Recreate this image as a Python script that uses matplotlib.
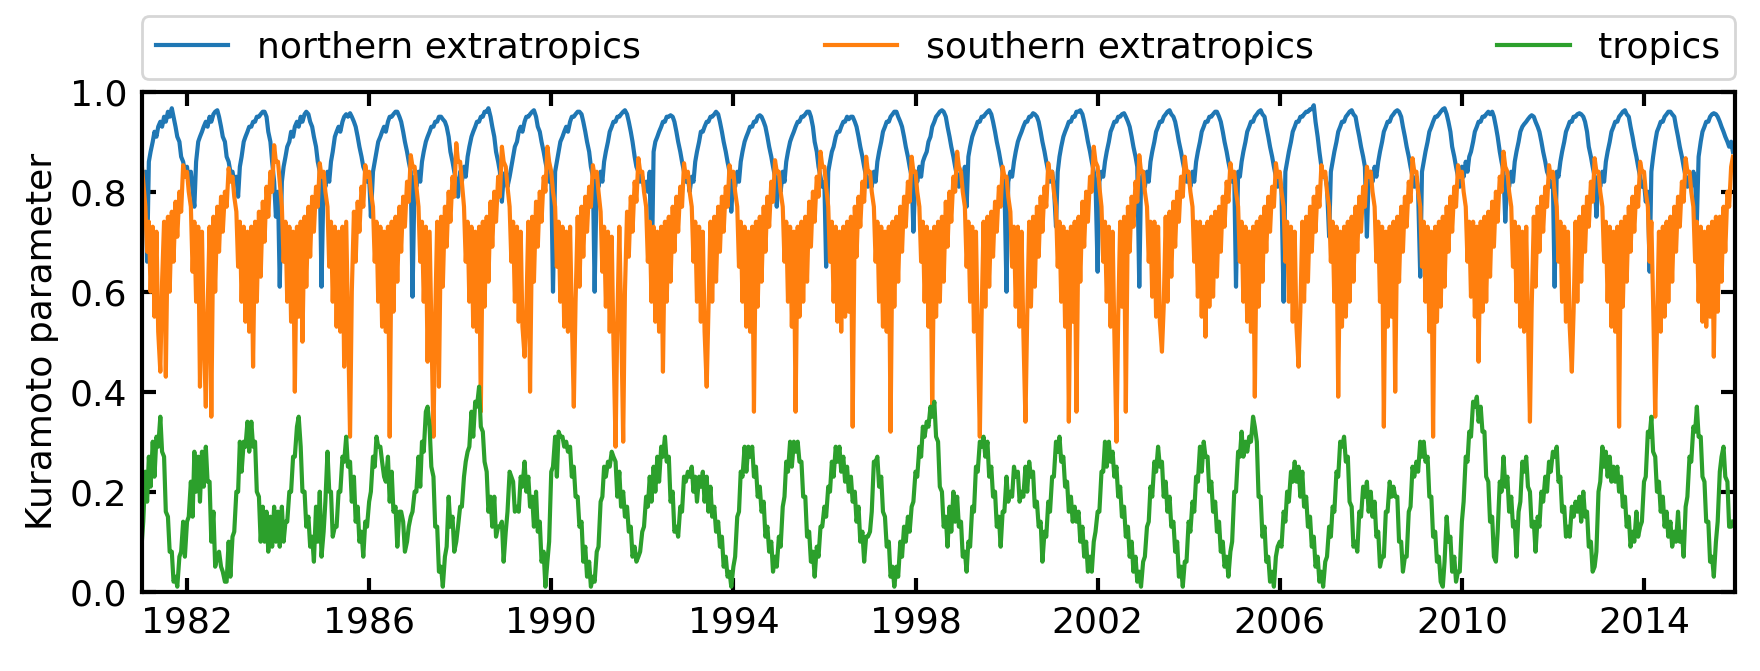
import numpy as np
import pandas as pd
import matplotlib
matplotlib.use("Agg")
import matplotlib.pyplot as plt

# ---------------- data (semi-monthly readings, 24 per year, 1981-2015) ----------------
years = list(range(1981, 2016))
labels = ["northern extratropics", "southern extratropics", "tropics"]
xtick_years = [1982, 1986, 1990, 1994, 1998, 2002, 2006, 2010, 2014]
xtick_labels = ["1982", "1986", "1990", "1994", "1998", "2002", "2006", "2010", "2014"]
ytick_values = [0.0, 0.2, 0.4, 0.6, 0.8, 1.0]

north = [
    [.82,.80,.84,.66,.86,.88,.90,.92,.91,.93,.94,.93,.95,.94,.96,.95,.967,.95,.93,.91,.90,.87,.86,.84],
    [.85,.82,.84,.80,.77,.86,.90,.91,.92,.93,.94,.93,.95,.94,.955,.96,.963,.95,.93,.91,.90,.87,.86,.84],
    [.84,.82,.83,.79,.85,.87,.90,.91,.92,.93,.93,.94,.94,.95,.95,.955,.96,.96,.95,.92,.90,.86,.82,.75],
    [.80,.61,.82,.85,.87,.89,.90,.92,.91,.93,.94,.93,.95,.94,.955,.96,.955,.94,.93,.91,.89,.86,.84,.61],
    [.83,.81,.84,.82,.86,.88,.91,.92,.93,.92,.94,.95,.955,.95,.957,.95,.94,.93,.91,.89,.87,.85,.84,.82],
    [.83,.75,.84,.86,.88,.90,.91,.92,.93,.92,.94,.95,.95,.955,.96,.96,.95,.94,.92,.90,.88,.86,.84,.59],
    [.83,.81,.84,.82,.86,.88,.90,.91,.92,.93,.93,.94,.94,.95,.95,.945,.94,.93,.91,.88,.86,.84,.82,.79],
    [.84,.82,.85,.83,.87,.89,.91,.92,.93,.94,.94,.95,.95,.96,.96,.967,.95,.93,.91,.88,.86,.84,.78,.83],
    [.84,.81,.83,.85,.87,.89,.90,.92,.93,.92,.94,.95,.95,.955,.96,.963,.95,.93,.92,.90,.88,.86,.84,.82],
    [.83,.60,.84,.86,.88,.90,.91,.92,.93,.92,.94,.95,.95,.955,.96,.96,.955,.94,.92,.90,.88,.85,.83,.60],
    [.83,.81,.84,.82,.86,.88,.90,.92,.93,.94,.94,.95,.95,.955,.96,.963,.955,.94,.92,.90,.87,.85,.84,.82],
    [.83,.81,.82,.80,.84,.60,.88,.90,.91,.92,.93,.94,.94,.95,.95,.953,.95,.94,.92,.90,.88,.86,.84,.82],
    [.83,.80,.83,.82,.86,.88,.90,.92,.92,.93,.94,.94,.95,.95,.955,.96,.955,.94,.92,.90,.88,.86,.84,.76],
    [.83,.81,.84,.82,.86,.88,.90,.91,.92,.93,.93,.94,.94,.95,.953,.95,.94,.93,.91,.89,.87,.85,.83,.77],
    [.83,.80,.84,.82,.86,.88,.90,.91,.92,.93,.94,.94,.95,.95,.955,.96,.96,.95,.93,.90,.88,.85,.83,.81],
    [.82,.65,.84,.86,.88,.89,.91,.92,.92,.93,.94,.94,.95,.945,.95,.95,.94,.93,.91,.89,.87,.85,.83,.81],
    [.83,.81,.84,.82,.86,.88,.90,.92,.93,.94,.94,.95,.955,.96,.96,.95,.94,.93,.91,.89,.87,.85,.83,.72],
    [.84,.82,.85,.83,.86,.87,.88,.90,.91,.93,.94,.95,.955,.96,.963,.96,.95,.93,.91,.89,.87,.85,.83,.81],
    [.84,.82,.85,.77,.87,.89,.91,.92,.93,.94,.94,.95,.95,.955,.96,.963,.955,.94,.92,.90,.88,.86,.84,.82],
    [.60,.82,.84,.83,.86,.88,.90,.91,.92,.93,.94,.94,.95,.95,.957,.955,.95,.94,.92,.90,.88,.86,.84,.82],
    [.84,.81,.73,.84,.87,.89,.91,.92,.93,.94,.94,.95,.95,.96,.96,.963,.955,.94,.92,.90,.88,.86,.84,.82],
    [.64,.82,.84,.83,.86,.88,.90,.92,.93,.94,.94,.95,.95,.955,.957,.95,.94,.93,.91,.89,.87,.85,.61,.82],
    [.84,.81,.84,.82,.86,.88,.90,.92,.93,.94,.94,.95,.955,.96,.963,.955,.95,.94,.92,.90,.88,.86,.84,.82],
    [.83,.81,.84,.82,.86,.88,.90,.92,.93,.94,.94,.95,.95,.955,.96,.96,.95,.94,.92,.90,.88,.86,.84,.82],
    [.83,.61,.84,.83,.86,.88,.90,.92,.93,.94,.94,.95,.955,.96,.963,.955,.95,.93,.91,.89,.87,.85,.83,.81],
    [.83,.80,.58,.84,.86,.88,.90,.92,.93,.94,.94,.95,.95,.955,.96,.96,.965,.965,.973,.94,.91,.88,.85,.83],
    [.83,.81,.71,.84,.86,.88,.90,.92,.93,.94,.94,.95,.955,.96,.963,.955,.95,.93,.91,.89,.87,.85,.71,.83],
    [.84,.82,.85,.83,.86,.88,.90,.92,.93,.94,.94,.95,.955,.96,.963,.96,.95,.93,.91,.89,.87,.85,.83,.81],
    [.83,.80,.63,.84,.86,.88,.90,.92,.93,.94,.95,.95,.955,.96,.965,.967,.955,.94,.92,.89,.87,.85,.83,.81],
    [.85,.83,.86,.84,.87,.88,.90,.92,.93,.94,.94,.95,.95,.955,.96,.955,.96,.95,.93,.91,.88,.86,.84,.74],
    [.83,.81,.84,.82,.86,.88,.90,.92,.93,.935,.94,.945,.95,.953,.95,.94,.93,.92,.90,.88,.86,.84,.83,.81],
    [.82,.61,.84,.83,.86,.88,.90,.92,.93,.94,.94,.95,.95,.955,.957,.955,.95,.94,.92,.89,.87,.85,.83,.75],
    [.83,.81,.84,.82,.86,.88,.90,.92,.93,.94,.94,.95,.955,.96,.963,.955,.95,.93,.91,.89,.87,.85,.83,.81],
    [.82,.78,.80,.64,.84,.87,.90,.92,.93,.94,.94,.95,.955,.96,.96,.955,.95,.93,.91,.89,.87,.85,.83,.81],
    [.83,.81,.84,.82,.74,.87,.90,.92,.93,.94,.94,.95,.955,.957,.955,.95,.94,.93,.92,.91,.90,.89,.90,.88],
]

south = [
    [.86,.82,.77,.68,.74,.60,.73,.55,.72,.52,.44,.62,.74,.43,.75,.60,.76,.66,.78,.71,.80,.76,.853,.83],
    [.84,.80,.77,.64,.74,.58,.73,.41,.72,.52,.37,.56,.73,.35,.75,.60,.77,.68,.79,.72,.80,.77,.847,.82],
    [.83,.79,.76,.65,.74,.58,.73,.54,.72,.52,.73,.45,.74,.58,.76,.63,.78,.70,.81,.75,.84,.80,.893,.86],
    [.86,.82,.77,.66,.74,.58,.73,.54,.72,.40,.73,.55,.74,.50,.75,.61,.77,.67,.79,.72,.81,.77,.857,.83],
    [.84,.80,.77,.65,.74,.58,.73,.53,.72,.52,.73,.45,.74,.55,.31,.60,.76,.66,.78,.72,.81,.77,.853,.83],
    [.84,.80,.77,.66,.74,.58,.73,.53,.72,.52,.73,.31,.74,.56,.75,.62,.77,.68,.79,.73,.82,.78,.873,.85],
    [.85,.81,.77,.66,.74,.58,.73,.46,.72,.53,.31,.55,.74,.41,.75,.61,.77,.69,.80,.74,.83,.79,.897,.86],
    [.86,.82,.77,.66,.74,.58,.73,.53,.72,.52,.73,.36,.74,.57,.75,.62,.78,.69,.80,.74,.83,.79,.89,.86],
    [.85,.81,.77,.66,.74,.58,.73,.54,.72,.53,.47,.56,.74,.40,.75,.62,.78,.69,.80,.74,.83,.80,.89,.86],
    [.84,.80,.77,.65,.74,.58,.73,.53,.72,.52,.73,.55,.37,.58,.75,.61,.77,.67,.79,.72,.81,.77,.853,.83],
    [.84,.80,.76,.64,.73,.57,.72,.52,.71,.50,.29,.54,.73,.56,.30,.60,.76,.67,.79,.72,.82,.78,.867,.84],
    [.84,.80,.77,.66,.74,.58,.73,.54,.72,.52,.73,.44,.74,.58,.75,.62,.77,.68,.79,.72,.81,.77,.857,.83],
    [.84,.80,.77,.66,.74,.58,.73,.54,.72,.52,.41,.56,.74,.58,.75,.62,.77,.68,.79,.72,.81,.77,.853,.83],
    [.84,.80,.77,.65,.74,.58,.73,.53,.72,.52,.73,.36,.74,.57,.75,.62,.77,.68,.79,.73,.82,.78,.863,.84],
    [.84,.80,.77,.66,.74,.58,.73,.53,.72,.36,.73,.55,.74,.58,.75,.62,.78,.69,.80,.74,.83,.79,.88,.85],
    [.85,.81,.77,.66,.74,.58,.73,.54,.72,.52,.73,.55,.74,.56,.75,.33,.77,.67,.79,.73,.82,.78,.87,.84],
    [.84,.80,.77,.66,.74,.58,.73,.53,.72,.52,.73,.32,.74,.57,.75,.62,.77,.68,.79,.73,.82,.78,.87,.84],
    [.84,.80,.77,.66,.74,.58,.73,.53,.72,.36,.73,.55,.74,.58,.75,.62,.78,.69,.80,.74,.83,.80,.88,.85],
    [.84,.80,.77,.65,.74,.58,.73,.52,.72,.52,.31,.55,.74,.57,.75,.61,.76,.67,.78,.72,.81,.77,.85,.83],
    [.83,.79,.76,.65,.73,.57,.73,.53,.72,.52,.34,.55,.74,.57,.75,.61,.77,.67,.79,.72,.81,.77,.857,.83],
    [.84,.80,.77,.65,.74,.58,.73,.53,.72,.34,.73,.54,.74,.36,.75,.62,.78,.69,.80,.74,.83,.80,.89,.86],
    [.85,.81,.77,.66,.74,.58,.73,.53,.72,.52,.30,.55,.74,.57,.75,.36,.77,.68,.79,.73,.82,.78,.873,.84],
    [.84,.80,.77,.66,.74,.59,.74,.55,.73,.54,.48,.57,.75,.58,.76,.63,.78,.69,.80,.74,.83,.79,.87,.84],
    [.84,.80,.77,.66,.74,.59,.74,.55,.73,.51,.74,.57,.75,.59,.76,.63,.77,.68,.79,.73,.82,.78,.857,.83],
    [.84,.80,.77,.66,.74,.58,.73,.54,.72,.52,.73,.39,.74,.57,.75,.62,.77,.68,.79,.72,.81,.77,.857,.83],
    [.84,.80,.77,.66,.74,.58,.73,.54,.72,.53,.45,.56,.74,.58,.75,.62,.77,.68,.79,.72,.81,.77,.853,.83],
    [.84,.80,.77,.66,.74,.58,.73,.39,.72,.53,.73,.55,.74,.58,.75,.62,.77,.68,.79,.72,.81,.77,.85,.83],
    [.84,.80,.77,.66,.74,.58,.73,.33,.72,.53,.73,.55,.74,.40,.75,.62,.77,.68,.79,.73,.82,.78,.867,.84],
    [.84,.80,.77,.65,.74,.58,.73,.52,.72,.31,.73,.54,.74,.57,.75,.61,.77,.68,.79,.72,.81,.77,.853,.83],
    [.84,.80,.77,.66,.74,.59,.74,.55,.73,.46,.74,.56,.75,.58,.76,.63,.78,.69,.80,.74,.83,.80,.88,.85],
    [.84,.80,.77,.65,.74,.58,.73,.53,.72,.52,.73,.55,.34,.57,.75,.61,.77,.68,.79,.72,.81,.77,.853,.83],
    [.84,.80,.77,.66,.74,.58,.73,.54,.72,.53,.44,.56,.74,.58,.75,.62,.77,.68,.79,.73,.82,.78,.867,.84],
    [.84,.80,.77,.66,.74,.58,.73,.53,.72,.52,.73,.33,.74,.57,.75,.62,.77,.68,.79,.72,.81,.77,.86,.84],
    [.84,.80,.77,.66,.74,.58,.35,.53,.72,.52,.73,.55,.74,.58,.75,.62,.77,.68,.79,.73,.82,.78,.867,.84],
    [.84,.80,.77,.66,.74,.58,.73,.54,.72,.53,.73,.55,.74,.47,.75,.56,.75,.62,.77,.68,.80,.77,.85,.87],
]

tropics = [
    [.09,.14,.24,.18,.27,.21,.30,.23,.31,.29,.35,.28,.27,.16,.15,.08,.08,.02,.03,.01,.07,.08,.14,.07],
    [.14,.15,.22,.15,.28,.20,.27,.18,.28,.21,.29,.22,.22,.10,.16,.05,.07,.08,.05,.04,.02,.02,.10,.03],
    [.11,.12,.20,.20,.30,.24,.30,.29,.34,.28,.34,.29,.30,.20,.19,.10,.17,.10,.16,.08,.15,.09,.17,.10],
    [.16,.09,.17,.10,.14,.14,.20,.20,.27,.27,.33,.35,.29,.20,.20,.13,.15,.09,.11,.06,.17,.10,.20,.07],
    [.12,.18,.28,.20,.20,.11,.13,.13,.20,.20,.27,.26,.31,.25,.26,.18,.23,.14,.17,.10,.12,.07,.14,.13],
    [.18,.20,.27,.25,.31,.29,.29,.26,.23,.22,.27,.18,.24,.16,.17,.09,.16,.16,.14,.08,.10,.13,.15,.16],
    [.20,.20,.27,.21,.30,.28,.36,.37,.33,.25,.23,.13,.13,.04,.05,.01,.07,.09,.19,.13,.15,.08,.10,.13],
    [.17,.17,.23,.26,.28,.29,.36,.31,.38,.37,.41,.33,.32,.26,.24,.16,.19,.13,.19,.11,.13,.13,.14,.06],
    [.12,.16,.24,.23,.22,.16,.17,.16,.23,.21,.26,.20,.23,.17,.19,.13,.20,.12,.14,.06,.08,.01,.06,.10],
    [.24,.25,.31,.23,.32,.31,.31,.29,.30,.28,.29,.23,.25,.19,.19,.13,.14,.06,.09,.03,.06,.01,.03,.02],
    [.08,.09,.18,.19,.25,.23,.26,.25,.28,.27,.26,.19,.24,.17,.20,.15,.17,.12,.13,.07,.09,.06,.07,.08],
    [.12,.13,.19,.17,.23,.18,.25,.20,.27,.22,.29,.27,.31,.26,.27,.18,.20,.12,.13,.11,.17,.16,.23,.22],
    [.24,.23,.25,.20,.23,.18,.23,.21,.24,.18,.23,.16,.21,.15,.17,.12,.14,.09,.11,.05,.07,.03,.04,.01],
    [.05,.07,.15,.16,.24,.23,.29,.24,.29,.27,.29,.23,.25,.19,.21,.16,.18,.11,.13,.08,.10,.04,.07,.05],
    [.11,.09,.17,.19,.26,.24,.30,.25,.30,.28,.30,.26,.26,.19,.19,.11,.12,.06,.08,.03,.09,.07,.13,.13],
    [.17,.15,.21,.20,.26,.23,.29,.26,.29,.24,.27,.22,.25,.20,.23,.18,.20,.14,.17,.10,.12,.06,.11,.11],
    [.12,.16,.26,.26,.27,.21,.23,.16,.15,.09,.10,.03,.05,.01,.05,.03,.10,.07,.13,.10,.15,.12,.17,.18],
    [.24,.23,.29,.27,.33,.31,.34,.33,.37,.35,.38,.31,.30,.21,.20,.13,.15,.09,.17,.12,.20,.14,.19,.13],
    [.14,.07,.08,.04,.10,.09,.17,.16,.25,.24,.30,.29,.31,.27,.30,.23,.25,.19,.20,.13,.15,.09,.16,.16],
    [.23,.18,.20,.19,.25,.23,.24,.18,.20,.19,.25,.20,.26,.23,.24,.17,.18,.13,.14,.06,.12,.11,.18,.16],
    [.23,.23,.30,.28,.31,.26,.27,.21,.22,.16,.19,.14,.17,.14,.16,.10,.13,.07,.10,.04,.07,.04,.10,.12],
    [.16,.16,.24,.24,.30,.25,.30,.26,.28,.23,.25,.19,.21,.15,.17,.11,.13,.07,.10,.04,.07,.02,.04,.01],
    [.06,.07,.13,.14,.21,.19,.26,.24,.29,.25,.26,.19,.22,.16,.19,.13,.14,.08,.10,.03,.05,.01,.06,.06],
    [.14,.12,.18,.16,.23,.22,.29,.24,.30,.27,.27,.20,.22,.16,.18,.12,.14,.08,.10,.05,.07,.03,.08,.10],
    [.20,.20,.28,.27,.32,.27,.30,.28,.31,.30,.35,.33,.30,.19,.19,.11,.13,.06,.07,.02,.04,.01,.07,.09],
    [.10,.09,.16,.14,.20,.18,.24,.22,.26,.22,.25,.19,.24,.17,.19,.13,.15,.09,.11,.05,.07,.02,.04,.01],
    [.06,.07,.13,.11,.17,.16,.24,.23,.30,.29,.31,.26,.27,.18,.17,.09,.10,.08,.16,.15,.21,.19,.22,.16],
    [.20,.15,.18,.11,.12,.05,.07,.07,.16,.16,.22,.19,.21,.19,.19,.10,.10,.04,.07,.07,.16,.17,.25,.23],
    [.26,.24,.30,.27,.30,.26,.27,.19,.19,.11,.12,.06,.07,.02,.01,.06,.15,.10,.11,.04,.07,.02,.04,.04],
    [.14,.18,.27,.26,.32,.31,.38,.37,.39,.34,.37,.32,.32,.23,.22,.14,.15,.07,.06,.12,.22,.20,.27,.21],
    [.23,.16,.19,.13,.14,.07,.16,.18,.26,.24,.27,.21,.20,.13,.14,.08,.15,.13,.20,.18,.23,.20,.26,.24],
    [.28,.27,.29,.22,.23,.16,.17,.11,.13,.11,.17,.15,.18,.16,.19,.14,.20,.15,.16,.09,.10,.04,.05,.08],
    [.20,.22,.29,.25,.28,.23,.27,.22,.25,.22,.25,.20,.23,.17,.19,.13,.15,.09,.12,.10,.16,.11,.13,.14],
    [.22,.23,.32,.31,.35,.28,.27,.20,.22,.16,.19,.13,.16,.11,.14,.09,.12,.10,.16,.10,.12,.07,.17,.19],
    [.27,.26,.33,.32,.37,.31,.31,.23,.22,.14,.14,.06,.07,.03,.10,.14,.24,.27,.29,.23,.22,.13,.13,.14],
]

colors = ["#1f77b4", "#ff7f0e", "#2ca02c"]

# ---------------- figure ----------------
dates = pd.date_range("1981-01-01", periods=24 * len(years), freq="SMS")

fig = plt.figure(figsize=(8.8, 3.355), dpi=200)
ax = fig.add_axes([0.0804, 0.1182, 0.9054, 0.7451])

for series, lab, col in zip([north, south, tropics], labels, colors):
    ax.plot(dates, np.ravel(series), color=col, lw=1.5, label=lab)

ax.set_xlim(pd.Timestamp("1981-01-01"), pd.Timestamp("2016-01-01"))
ax.set_ylim(0, 1)
ax.set_xticks([pd.Timestamp(f"{y}-01-01") for y in xtick_years])
ax.set_xticklabels(xtick_labels)
ax.set_yticks(ytick_values)
ax.set_yticklabels([f"{v:.1f}" for v in ytick_values])

ax.tick_params(direction="in", length=5, width=1.5, top=True, right=True,
               labelsize=13, pad=5)
for sp in ax.spines.values():
    sp.set_linewidth(1.5)

ax.set_ylabel("Kuramoto parameter", fontsize=13)

ax.legend(loc="lower left", bbox_to_anchor=(0, 1.025, 1, 0.1), ncol=3,
          mode="expand", borderaxespad=0, fontsize=13)

fig.savefig("out.png", dpi=200)
